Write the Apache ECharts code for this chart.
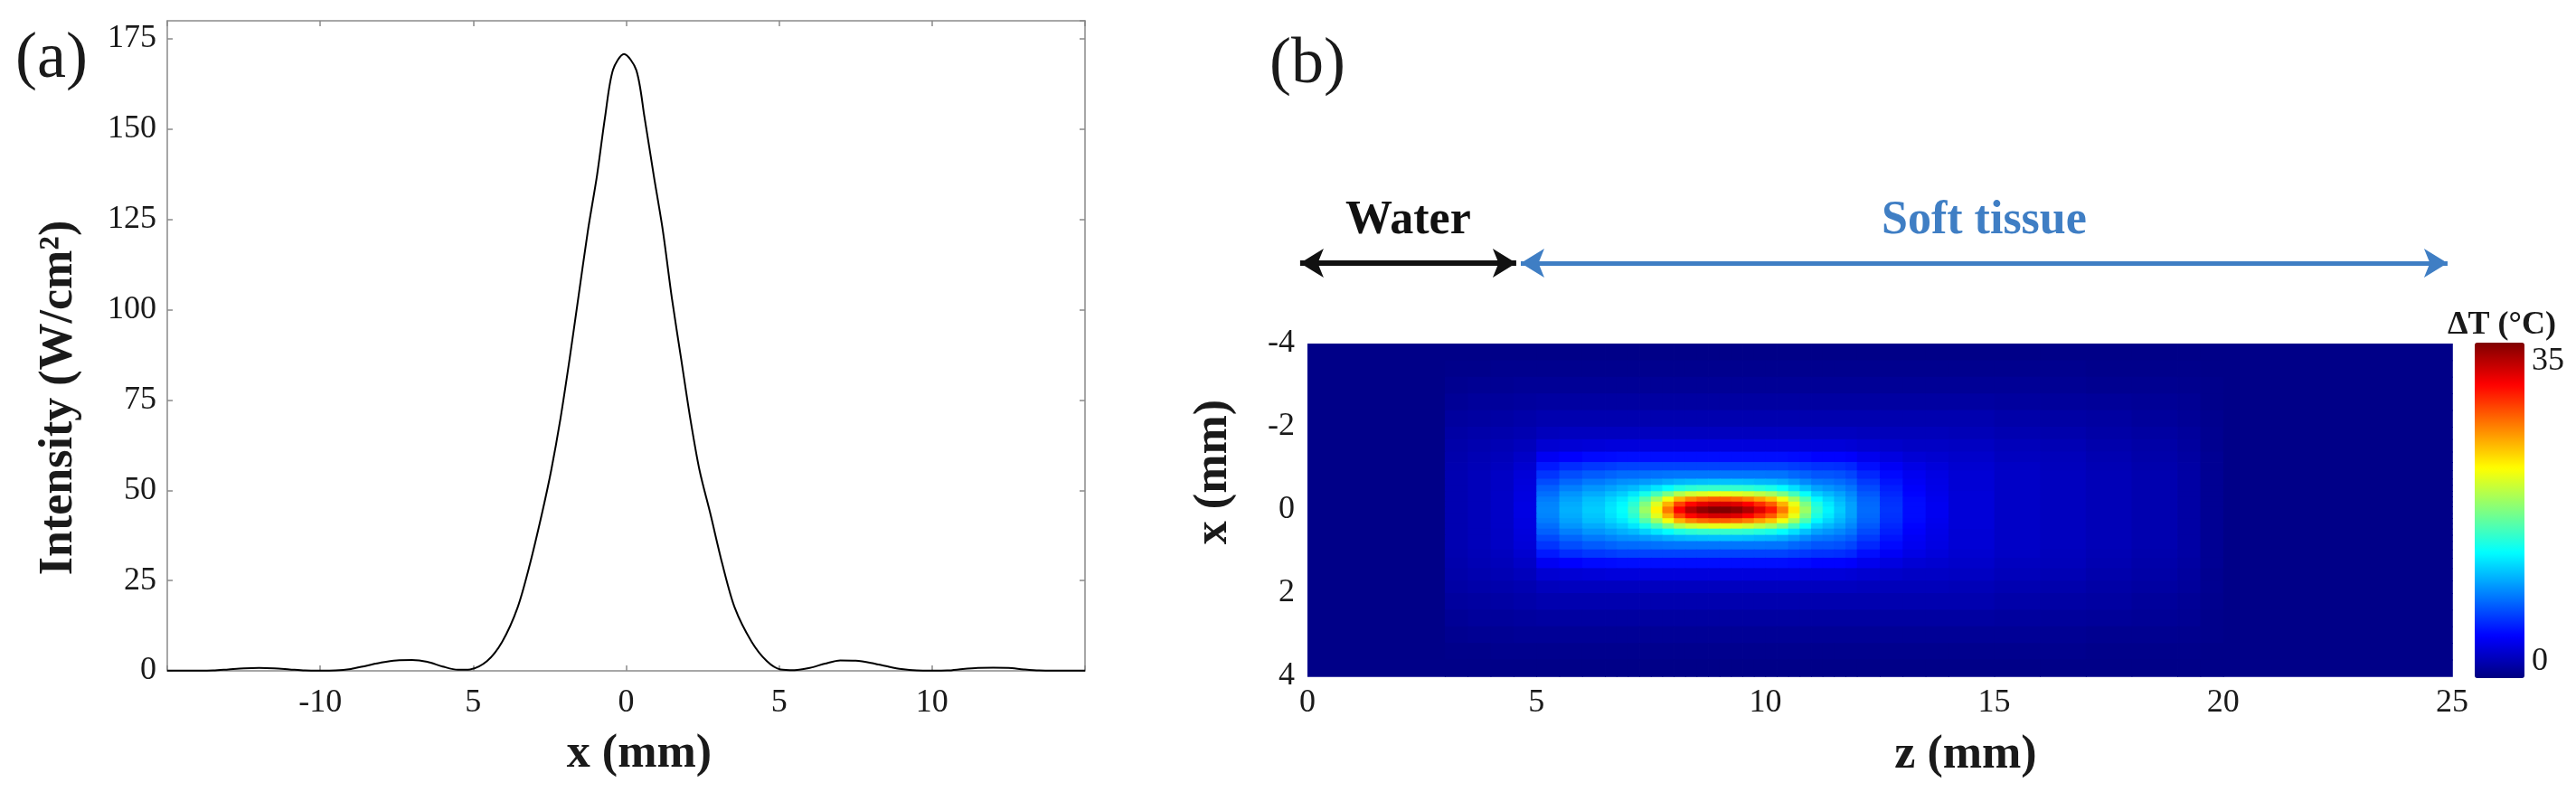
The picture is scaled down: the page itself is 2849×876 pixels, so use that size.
<!DOCTYPE html>
<html>
<head>
<meta charset="utf-8">
<script src="https://cdn.jsdelivr.net/npm/echarts@6/dist/echarts.min.js"></script>
<style>
html, body { margin: 0; padding: 0; background: #fff; }
#chart { width: 2849px; height: 876px; }
</style>
</head>
<body>
<div id="chart"></div>
<script>
// (a) lateral intensity profile at the focus
const profileX = [-15, -14, -13.5, -13, -12.5, -12, -11.5, -11, -10.5, -10,
  -9.5, -9, -8.5, -8, -7.5, -7, -6.5, -6, -5.5, -5.1,
  -4.55, -4.05, -3.55, -3.15, -2.75, -2.45, -2.15, -1.85, -1.57, -1.25,
  -0.95, -0.69, -0.43, -0.07, 0.33, 0.6, 0.9, 1.2, 1.5, 1.8,
  2.1, 2.4, 2.75, 3.15, 3.55, 4.1, 4.6, 5.05, 5.5, 6,
  6.5, 7, 7.5, 8, 8.5, 9, 9.5, 10, 10.5, 11,
  11.5, 12, 12.5, 13, 13.5, 14, 15];
const profileI = [0.05, 0.05, 0.1, 0.4, 0.7, 0.8, 0.7, 0.4, 0.1, 0.05,
  0.1, 0.5, 1.4, 2.3, 2.9, 3.0, 2.5, 1.2, 0.3, 0.4,
  2.7, 8.1, 17.5, 29.4, 43.6, 55.5, 69.7, 86.3, 102.9, 121.9,
  137.3, 153.3, 166.4, 170.8, 166.4, 153.3, 137.3, 121.9, 102.9, 86.3,
  69.7, 55.5, 43.6, 29.4, 17.5, 8.1, 2.7, 0.4, 0.2, 0.8,
  2.0, 2.9, 2.8, 2.2, 1.3, 0.5, 0.1, 0.05, 0.1, 0.5,
  0.8, 0.9, 0.8, 0.4, 0.1, 0.05, 0.05];
const profileTickValues = [-10, -5, 0, 5, 10];
const profileTickLabels = ['-10', '5', '0', '5', '10'];

// (b) temperature rise map: cell edges along z and x (mm)
const zEdges = [0, 3, 3.5, 4, 4.5, 5, 5.5, 6, 6.5,
  6.75, 7, 7.25, 7.5, 7.75, 8, 8.25, 8.5, 8.75, 9, 9.25, 9.5, 9.75,
  10, 10.25, 10.5, 10.75, 11, 11.25, 11.5, 11.75, 12,
  12.5, 13, 13.5, 14, 15, 16, 17, 18, 19, 19.5, 20, 25];
const xEdges = [-4, -3.6, -3.2, -2.8, -2.4, -2.0, -1.7, -1.4, -1.15, -0.95, -0.75, -0.6, -0.45, -0.32, -0.2, -0.08,
  0.08, 0.2, 0.32, 0.45, 0.6, 0.75, 0.95, 1.15, 1.4, 1.7, 2.0, 2.4, 2.8, 3.2, 3.6, 4];

// ΔT (°C) per z cell, one row per distance from the beam axis
const rowAxis = [0.3, 1.8, 2.1, 2.6, 3.6, 9.5, 11.0, 12.0, 13.0, 14.0, 16.0, 19.5, 23.5, 28.0, 32.5, 35.0, 36.3, 37.0, 37.0, 36.5, 35.3,
  33.5, 31.5, 28.0, 24.0, 19.5, 15.5, 13.5, 12.0, 10.5, 8.5, 6.5, 5.0, 4.1, 3.2, 2.6, 2.3, 2.0, 1.7, 1.3, 0.7, 0.3];
const row014 = [0.3, 1.8, 2.1, 2.6, 3.6, 9.4, 10.8, 11.8, 12.8, 13.7, 15.4, 18.5, 22.0, 26.0, 30.0, 32.2, 33.3, 33.9, 33.9, 33.5, 32.4,
  30.8, 29.1, 26.0, 22.4, 18.4, 14.9, 13.1, 11.7, 10.4, 8.4, 6.4, 5.0, 4.1, 3.2, 2.6, 2.3, 2.0, 1.7, 1.3, 0.7, 0.3];
const row026 = [0.3, 1.8, 2.1, 2.6, 3.5, 9.1, 10.5, 11.5, 12.3, 13.1, 14.5, 16.9, 19.6, 22.7, 25.9, 27.6, 28.5, 29.0, 29.0, 28.6, 27.8,
  26.5, 25.2, 22.7, 19.9, 16.6, 13.7, 12.4, 11.2, 10.0, 8.2, 6.3, 4.9, 4.0, 3.2, 2.6, 2.3, 2.0, 1.7, 1.3, 0.7, 0.3];
const row039 = [0.3, 1.8, 2.1, 2.6, 3.5, 8.6, 10.0, 10.8, 11.5, 12.1, 13.0, 14.6, 16.3, 18.3, 20.3, 21.4, 21.9, 22.3, 22.3, 22.0, 21.5,
  20.7, 19.8, 18.3, 16.3, 14.1, 12.1, 11.3, 10.5, 9.5, 7.8, 6.0, 4.7, 3.9, 3.2, 2.6, 2.3, 2.0, 1.7, 1.3, 0.7, 0.3];
const row053 = [0.3, 1.8, 2.1, 2.5, 3.4, 8.1, 9.2, 10.0, 10.5, 11.0, 11.4, 12.2, 13.0, 13.9, 14.9, 15.4, 15.7, 15.8, 15.8, 15.7, 15.5,
  15.1, 14.7, 13.9, 12.8, 11.6, 10.5, 10.0, 9.5, 8.8, 7.3, 5.7, 4.5, 3.8, 3.1, 2.6, 2.3, 2.0, 1.7, 1.3, 0.7, 0.3];
const row068 = [0.3, 1.8, 2.1, 2.5, 3.3, 7.3, 8.3, 9.0, 9.4, 9.8, 9.9, 10.2, 10.5, 10.9, 11.2, 11.4, 11.5, 11.6, 11.6, 11.6, 11.5,
  11.3, 11.2, 10.9, 10.3, 9.6, 9.0, 8.8, 8.5, 8.0, 6.7, 5.3, 4.3, 3.7, 3.1, 2.6, 2.3, 2.0, 1.7, 1.3, 0.7, 0.3];
const row085 = [0.3, 1.8, 2.1, 2.5, 3.2, 6.5, 7.4, 7.9, 8.2, 8.5, 8.5, 8.6, 8.7, 8.8, 8.9, 8.9, 8.9, 8.9, 8.9, 8.9, 8.9,
  8.9, 8.8, 8.8, 8.4, 8.1, 7.7, 7.7, 7.5, 7.1, 6.0, 4.9, 4.1, 3.6, 3.1, 2.6, 2.3, 2.0, 1.7, 1.3, 0.7, 0.3];
const row105 = [0.3, 1.7, 2.0, 2.3, 2.9, 5.5, 6.2, 6.6, 6.8, 7.0, 7.0, 7.0, 7.0, 7.0, 7.0, 7.0, 7.0, 7.0, 7.0, 7.0, 7.0,
  7.0, 7.0, 7.0, 6.8, 6.6, 6.4, 6.4, 6.3, 6.0, 5.1, 4.3, 3.7, 3.3, 2.9, 2.5, 2.2, 1.9, 1.6, 1.3, 0.7, 0.3];
const row128 = [0.3, 1.6, 1.9, 2.1, 2.6, 4.2, 4.6, 4.9, 5.0, 5.1, 5.1, 5.1, 5.1, 5.1, 5.1, 5.1, 5.1, 5.1, 5.1, 5.1, 5.1,
  5.1, 5.1, 5.1, 5.0, 4.9, 4.7, 4.7, 4.7, 4.5, 4.0, 3.5, 3.1, 2.9, 2.7, 2.3, 2.1, 1.8, 1.5, 1.2, 0.7, 0.3];
const row155 = [0.3, 1.5, 1.7, 1.9, 2.2, 3.0, 3.1, 3.2, 3.3, 3.3, 3.3, 3.3, 3.3, 3.3, 3.3, 3.3, 3.3, 3.3, 3.3, 3.3, 3.3,
  3.3, 3.3, 3.3, 3.3, 3.2, 3.2, 3.2, 3.2, 3.1, 2.9, 2.7, 2.5, 2.5, 2.4, 2.1, 1.9, 1.6, 1.4, 1.1, 0.6, 0.3];
const row185 = [0.3, 1.3, 1.5, 1.6, 1.8, 2.2, 2.3, 2.3, 2.3, 2.3, 2.3, 2.3, 2.3, 2.3, 2.3, 2.3, 2.3, 2.3, 2.3, 2.3, 2.3,
  2.3, 2.3, 2.3, 2.3, 2.3, 2.3, 2.3, 2.3, 2.3, 2.2, 2.1, 2.1, 2.1, 2.0, 1.8, 1.6, 1.4, 1.2, 1.0, 0.6, 0.3];
const row220 = [0.3, 1.1, 1.2, 1.3, 1.5, 1.7, 1.7, 1.7, 1.7, 1.7, 1.7, 1.7, 1.7, 1.7, 1.7, 1.7, 1.7, 1.7, 1.7, 1.7, 1.7,
  1.7, 1.7, 1.7, 1.7, 1.7, 1.7, 1.7, 1.7, 1.7, 1.7, 1.7, 1.7, 1.7, 1.7, 1.5, 1.3, 1.2, 1.0, 0.8, 0.5, 0.3];
const row260 = [0.3, 0.8, 1.0, 1.0, 1.1, 1.2, 1.2, 1.2, 1.2, 1.2, 1.2, 1.2, 1.2, 1.2, 1.2, 1.2, 1.2, 1.2, 1.2, 1.2, 1.2,
  1.2, 1.2, 1.2, 1.2, 1.2, 1.2, 1.2, 1.2, 1.2, 1.2, 1.2, 1.2, 1.2, 1.2, 1.1, 1.0, 0.9, 0.8, 0.7, 0.4, 0.3];
const row300 = [0.3, 0.6, 0.7, 0.7, 0.8, 0.8, 0.8, 0.8, 0.8, 0.8, 0.8, 0.8, 0.8, 0.8, 0.8, 0.8, 0.8, 0.8, 0.8, 0.8, 0.8,
  0.8, 0.8, 0.8, 0.8, 0.8, 0.8, 0.8, 0.8, 0.8, 0.8, 0.8, 0.8, 0.8, 0.8, 0.8, 0.7, 0.6, 0.6, 0.5, 0.4, 0.3];
const row340 = [0.3, 0.4, 0.4, 0.5, 0.5, 0.5, 0.5, 0.5, 0.5, 0.5, 0.5, 0.5, 0.5, 0.5, 0.5, 0.5, 0.5, 0.5, 0.5, 0.5, 0.5,
  0.5, 0.5, 0.5, 0.5, 0.5, 0.5, 0.5, 0.5, 0.5, 0.5, 0.5, 0.5, 0.5, 0.5, 0.5, 0.5, 0.4, 0.4, 0.4, 0.3, 0.3];
const row380 = [0.3, 0.3, 0.3, 0.3, 0.3, 0.3, 0.3, 0.3, 0.3, 0.3, 0.3, 0.3, 0.3, 0.3, 0.3, 0.3, 0.3, 0.3, 0.3, 0.3, 0.3,
  0.3, 0.3, 0.3, 0.3, 0.3, 0.3, 0.3, 0.3, 0.3, 0.3, 0.3, 0.3, 0.3, 0.3, 0.3, 0.3, 0.3, 0.3, 0.3, 0.3, 0.3];

// rows from x = -4 (top) to x = 4 (bottom); the field is symmetric about the axis
const mapRows = [row380, row340, row300, row260, row220, row185, row155, row128, row105, row085, row068, row053, row039, row026, row014,
  rowAxis,
  row014, row026, row039, row053, row068, row085, row105, row128, row155, row185, row220, row260, row300, row340, row380];

const regionNames = ['Water', 'Soft tissue'];
const regionStart = [-0.16, 4.66];
const regionEnd = [4.56, 24.9];
const colorbarTicks = [0, 35];

const serif = 'Liberation Serif';
const textColor = '#1a1a1a';
const boxColor = '#8a8a8a';
const regionColors = ['#111111', '#3f7ec4'];
const jet = ['#000080', '#0000ff', '#0080ff', '#00ffff', '#80ff80', '#ffff00', '#ff8000', '#ff0000', '#800000'];

const profileData = profileX.map((x, i) => [x, profileI[i]]);

const mapCells = [];
mapRows.forEach((row, i) => {
  row.forEach((v, j) => {
    mapCells.push([zEdges[j], zEdges[j + 1], xEdges[i], xEdges[i + 1], v]);
  });
});

const chart = echarts.init(document.getElementById('chart'));

const labelFont = { fontFamily: serif, fontSize: 36, color: textColor };
const boxAxis = { show: true, onZero: false, lineStyle: { color: boxColor, width: 1.5 } };
const boxTick = { show: true, inside: true, length: 6, lineStyle: { color: boxColor, width: 1.5 } };

// heat map plot box, shared by the map and the region arrows above it
const mapLeft = 1446, mapWidth = 1266, zMax = 25, arrowPad = 1;

function txt(text, x, y, font, rotation) {
  return {
    type: 'text', x: x, y: y, rotation: rotation || 0, silent: true,
    style: {
      text: text, font: font, fill: textColor,
      align: 'center', verticalAlign: 'middle', textAlign: 'center', textVerticalAlign: 'middle'
    }
  };
}

chart.setOption({
  backgroundColor: '#ffffff',
  animation: false,
  grid: [
    { left: 185, top: 23, width: 1015, height: 719, outerBoundsMode: 'none' },
    { left: mapLeft, top: 380, width: mapWidth, height: 368, outerBoundsMode: 'none' },
    {
      left: mapLeft - arrowPad * mapWidth / zMax, top: 281,
      width: mapWidth * (zMax + arrowPad) / zMax, height: 20, outerBoundsMode: 'none'
    },
    { left: 2737, top: 379, width: 55, height: 371, outerBoundsMode: 'none' }
  ],
  xAxis: [
    {
      gridIndex: 0, type: 'value', min: -15, max: 15, interval: 5,
      axisLine: boxAxis, axisTick: boxTick, splitLine: { show: false },
      axisLabel: Object.assign({
        margin: 18,
        formatter: function (v) {
          const i = profileTickValues.indexOf(v);
          return i >= 0 ? profileTickLabels[i] : '';
        }
      }, labelFont)
    },
    {
      gridIndex: 0, type: 'value', position: 'top', min: -15, max: 15, interval: 5,
      axisLine: boxAxis, axisTick: boxTick, splitLine: { show: false }, axisLabel: { show: false }
    },
    {
      gridIndex: 1, type: 'value', min: 0, max: zMax, interval: 5,
      axisLine: { show: false }, axisTick: { show: false }, splitLine: { show: false },
      axisLabel: Object.assign({ margin: 12 }, labelFont)
    },
    { gridIndex: 2, type: 'value', min: -arrowPad, max: zMax, show: false },
    { gridIndex: 3, type: 'value', min: 0, max: 1, show: false }
  ],
  yAxis: [
    {
      gridIndex: 0, type: 'value', min: 0, max: 180, interval: 25,
      axisLine: boxAxis, axisTick: boxTick, splitLine: { show: false },
      axisLabel: Object.assign({ margin: 12, showMaxLabel: false }, labelFont)
    },
    {
      gridIndex: 0, type: 'value', position: 'right', min: 0, max: 180, interval: 25,
      axisLine: boxAxis, axisTick: boxTick, splitLine: { show: false }, axisLabel: { show: false }
    },
    {
      gridIndex: 1, type: 'value', min: -4, max: 4, interval: 2, inverse: true,
      axisLine: { show: false }, axisTick: { show: false }, splitLine: { show: false },
      axisLabel: Object.assign({ margin: 14 }, labelFont)
    },
    { gridIndex: 2, type: 'value', min: 0, max: 1, show: false },
    {
      gridIndex: 3, type: 'value', position: 'right', min: 0, max: 37,
      axisLine: { show: false }, axisTick: { show: false }, splitLine: { show: false },
      axisLabel: Object.assign({ margin: 8, customValues: colorbarTicks, verticalAlignMinLabel: 'bottom' }, labelFont)
    }
  ],
  visualMap: {
    type: 'continuous',
    seriesIndex: 1,
    dimension: 4,
    min: 0,
    max: 37,
    calculable: false,
    realtime: false,
    orient: 'vertical',
    left: 2737,
    top: 379,
    itemWidth: 55,
    itemHeight: 371,
    padding: 0,
    inRange: { color: jet }
  },
  series: [
    {
      type: 'line',
      xAxisIndex: 0, yAxisIndex: 0,
      data: profileData,
      showSymbol: false,
      smooth: 0.3,
      lineStyle: { color: '#000000', width: 2 },
      silent: true
    },
    {
      type: 'custom',
      xAxisIndex: 2, yAxisIndex: 2,
      data: mapCells,
      encode: { x: [0, 1], y: [2, 3] },
      silent: true,
      renderItem: function (params, api) {
        const a = api.coord([api.value(0), api.value(2)]);
        const b = api.coord([api.value(1), api.value(3)]);
        return {
          type: 'rect',
          shape: {
            x: Math.min(a[0], b[0]),
            y: Math.min(a[1], b[1]),
            width: Math.abs(b[0] - a[0]) + 0.8,
            height: Math.abs(b[1] - a[1]) + 0.8
          },
          style: { fill: api.visual('color') }
        };
      }
    },
    {
      type: 'line',
      xAxisIndex: 3, yAxisIndex: 3,
      data: [],
      silent: true,
      markLine: {
        silent: true,
        animation: false,
        symbol: ['arrow', 'arrow'],
        symbolSize: [24, 26],
        lineStyle: { width: 5, type: 'solid' },
        label: {
          show: true, position: 'insideMiddleTop', distance: 20, formatter: '{b}',
          fontFamily: serif, fontWeight: 'bold', fontSize: 52
        },
        data: regionNames.map(function (name, i) {
          return [
            { coord: [regionStart[i], 0.5], name: name, lineStyle: { color: regionColors[i], width: i === 0 ? 6 : 5 }, label: { color: regionColors[i] } },
            { coord: [regionEnd[i], 0.5] }
          ];
        })
      }
    }
  ],
  graphic: [
    txt('(a)', 57, 66, '72px "Liberation Serif"'),
    txt('(b)', 1446, 72, '72px "Liberation Serif"'),
    txt('Intensity (W/cm²)', 66, 440, 'bold 52px "Liberation Serif"', Math.PI / 2),
    txt('x (mm)', 707, 835, 'bold 52px "Liberation Serif"'),
    txt('x (mm)', 1343, 522, 'bold 52px "Liberation Serif"', Math.PI / 2),
    txt('z (mm)', 2174, 836, 'bold 52px "Liberation Serif"'),
    txt('ΔT (°C)', 2767, 360, 'bold 36px "Liberation Serif"')
  ]
});
</script>
</body>
</html>
